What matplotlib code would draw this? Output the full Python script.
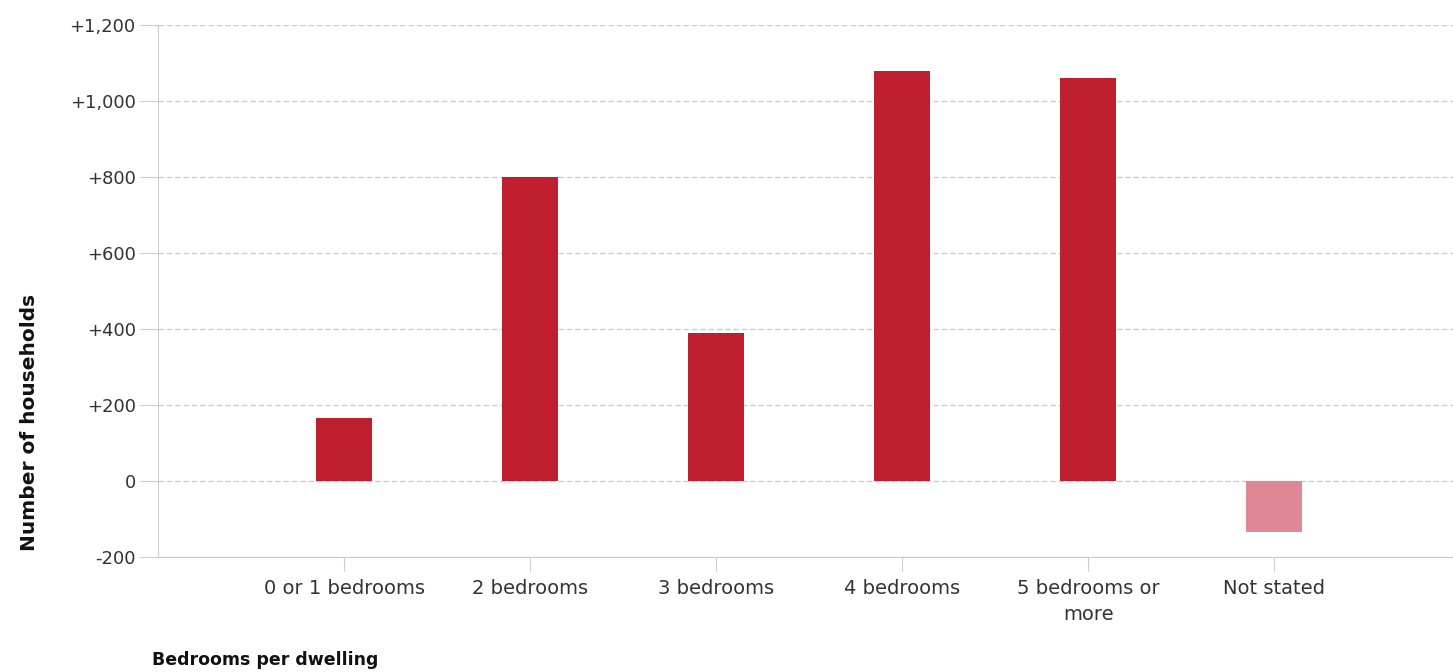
import matplotlib.pyplot as plt
from matplotlib.ticker import FuncFormatter

plt.rcParams['font.family'] = ['DejaVu Sans']

categories = ["0 or 1 bedrooms", "2 bedrooms", "3 bedrooms", "4 bedrooms",
              "5 bedrooms or\nmore", "Not stated"]
values = [165, 800, 390, 1080, 1060, -135]
bar_colors = ["#BE1E2D"] * 5 + ["#E08795"]
y_ticks = [-200, 0, 200, 400, 600, 800, 1000, 1200]

fig = plt.figure(figsize=(14.53, 6.72), dpi=100)
ax = fig.add_axes([0.1087, 0.1711, 0.8913, 0.7917])

x = list(range(1, len(categories) + 1))
ax.bar(x, values, width=0.3, color=bar_colors, zorder=3)

ax.set_xlim(0, 6.96)
ax.set_ylim(-200, 1200)
ax.set_yticks(y_ticks)
ax.yaxis.set_major_formatter(FuncFormatter(lambda v, p: "0" if v == 0 else f"{v:+,.0f}"))
ax.set_xticks(x)
ax.set_xticklabels(categories, linespacing=1.45)

grid_col = "#cccccc"
ax.grid(axis="y", color=grid_col, linestyle=(0, (4, 2)), linewidth=1, zorder=0)
for s in ["top", "right"]:
    ax.spines[s].set_visible(False)
ax.spines["left"].set_color(grid_col)
ax.spines["bottom"].set_color(grid_col)
ax.tick_params(axis="y", length=13, color=grid_col, pad=3, labelsize=13, labelcolor="#333333")
ax.tick_params(axis="x", length=10, color=grid_col, pad=6, labelsize=14, labelcolor="#333333")

fig.text(30 / 1453, 1 - 422 / 672, "Number of households", rotation=90,
         ha="center", va="center", fontsize=14.5, fontweight="bold", color="#111111")
fig.text(152 / 1453, 1 - 660 / 672, "Bedrooms per dwelling",
         ha="left", va="center", fontsize=12.5, fontweight="bold", color="#111111")

fig.savefig("out.png", dpi=100)
